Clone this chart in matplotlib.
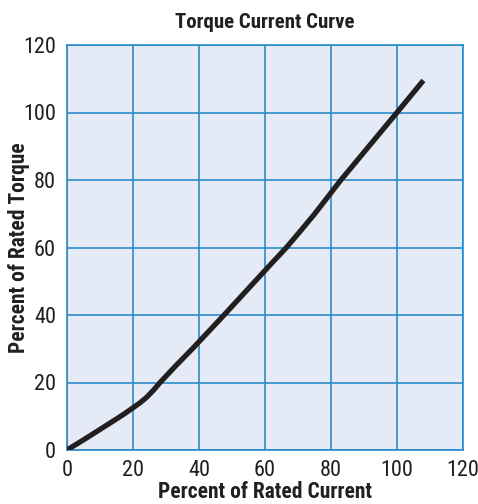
import matplotlib
matplotlib.use("Agg")
import matplotlib.pyplot as plt
from matplotlib import font_manager
from matplotlib.font_manager import FontProperties

current = [0, 5, 10, 15, 17.5, 20, 22, 24, 26, 28.2, 33, 38, 47.6, 57, 62, 66.5, 71, 75, 83, 91.5, 100, 108]
torque = [0, 3.0, 6.1, 9.2, 10.8, 12.5, 13.9, 15.5, 17.5, 20, 25, 30, 40, 50, 55.3, 60, 65.2, 69.9, 80, 90, 100, 109.5]

xticks = [0, 20, 40, 60, 80, 100, 120]
yticks = [0, 20, 40, 60, 80, 100, 120]

def is_cond(f):
    st = str(f.stretch).lower()
    n = (f.name + " " + f.fname).lower()
    return ("condensed" in st or "narrow" in st or "condensed" in n or "narrow" in n) and "extra" not in n and "semi" not in n and "ultra" not in n

def pick(bold):
    prefs = ["liberation", "arimo", "roboto", "noto sans", "open sans", "dejavu sans"]
    cands = [f for f in font_manager.fontManager.ttflist if is_cond(f) and f.style == "normal"]
    for p in prefs:
        for f in cands:
            if f.name.lower().startswith(p) and "mono" not in f.name.lower() and "cjk" not in f.name.lower():
                w = f.weight if isinstance(f.weight, int) else (700 if "bold" in str(f.weight) else 400)
                if bold and w >= 600 and w <= 750:
                    return f.fname
                if not bold and 350 <= w <= 450:
                    return f.fname
    return None

fb = pick(True)
fr = pick(False)
def fp(bold, size):
    fn = fb if bold else fr
    if fn:
        return FontProperties(fname=fn, size=size)
    return FontProperties(family="DejaVu Sans", weight="bold" if bold else "normal", stretch="condensed", size=size)

grid_c = "#2A8BCB"
bg_c = "#E5EBF6"
txt_c = "#231F20"

fig = plt.figure(figsize=(4.78, 5.04), dpi=100)
ax = fig.add_axes([67/478, 54/504, 396/478, 405/504])
ax.set_facecolor(bg_c)
ax.plot(current, torque, color=txt_c, lw=3.8, solid_capstyle="butt", solid_joinstyle="round", zorder=3)
ax.set_xlim(0, 120)
ax.set_ylim(0, 120)
ax.set_xticks(xticks)
ax.set_yticks(yticks)
ax.grid(True, color=grid_c, lw=1.2)
for s in ax.spines.values():
    s.set_color(grid_c)
    s.set_linewidth(1.2)
ax.tick_params(axis="x", length=0, colors=txt_c, pad=7.5)
ax.tick_params(axis="y", length=0, colors=txt_c, pad=8)
for lab in ax.get_xticklabels() + ax.get_yticklabels():
    lab.set_fontproperties(fp(False, 16))
ax.set_axisbelow(True)
ax.set_title("Torque Current Curve", fontproperties=fp(True, 15), color=txt_c, pad=12)
ax.set_xlabel("Percent of Rated Current", fontproperties=fp(True, 15.5), color=txt_c, labelpad=0)
ax.set_ylabel("Percent of Rated Torque", fontproperties=fp(True, 15.5), color=txt_c, labelpad=-5)
fig.savefig("out.png", dpi=100)
